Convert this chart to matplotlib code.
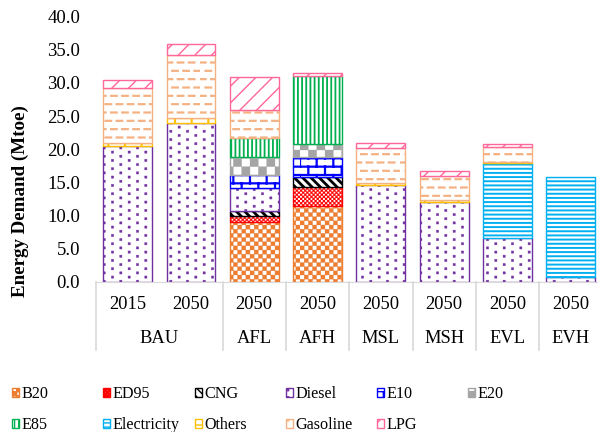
import warnings
import numpy as np
import matplotlib
matplotlib.use("Agg")
import matplotlib.pyplot as plt
import matplotlib.hatch as mhatch
from matplotlib.path import Path
from matplotlib.patches import Patch

warnings.filterwarnings('ignore')
plt.rcParams['font.family'] = ['Liberation Serif', 'DejaVu Serif']

# categories (bottom axis, two levels)
years = ['2015', '2050', '2050', '2050', '2050', '2050', '2050', '2050']
scenarios = ['BAU', 'AFL', 'AFH', 'MSL', 'MSH', 'EVL', 'EVH']
scenario_span = [(0, 1), (2, 2), (3, 3), (4, 4), (5, 5), (6, 6), (7, 7)]

# energy demand by fuel (Mtoe)
B20 = [0, 0, 9.1, 11.4, 0, 0, 0, 0]
ED95 = [0, 0, 0.85, 2.9, 0, 0, 0, 0]
CNG = [0, 0, 0.8, 1.5, 0, 0, 0, 0]
Diesel = [20.5, 24.0, 3.4, 0, 14.6, 12.0, 6.6, 0.8]
E10 = [0, 0, 2.0, 3.1, 0, 0, 0, 0]
E20 = [0, 0, 2.75, 1.9, 0, 0, 0, 0]
E85 = [0, 0, 2.75, 10.2, 0, 0, 0, 0]
Electricity = [0, 0, 0, 0, 0, 0, 11.3, 15.0]
Others = [0.5, 0.65, 0, 0, 0.3, 0.3, 0.15, 0]
Gasoline = [8.2, 9.6, 4.3, 0, 5.25, 3.7, 2.35, 0]
LPG = [1.3, 1.65, 4.95, 0.55, 0.85, 0.65, 0.4, 0]

fuels = ['B20', 'ED95', 'CNG', 'Diesel', 'E10', 'E20', 'E85',
         'Electricity', 'Others', 'Gasoline', 'LPG']
values = [B20, ED95, CNG, Diesel, E10, E20, E85, Electricity, Others, Gasoline, LPG]


# extra hatch patterns (Excel-like fills): c = checker, d = dashes, b = bricks, p = dots
class CheckerHatch(mhatch.HatchPatternBase):
    def __init__(self, hatch, density):
        self.n = 2 * hatch.count('c') * density
        self.num_vertices = (self.n * self.n // 2) * 5

    def set_vertices_and_codes(self, vertices, codes):
        s = 1.0 / self.n
        k = 0
        for i in range(self.n):
            for j in range(self.n):
                if (i + j) % 2 == 0:
                    x0, y0 = i * s, j * s
                    vertices[k:k + 5] = [[x0, y0], [x0 + s, y0], [x0 + s, y0 + s],
                                         [x0, y0 + s], [x0, y0]]
                    codes[k:k + 5] = [Path.MOVETO, Path.LINETO, Path.LINETO,
                                      Path.LINETO, Path.CLOSEPOLY]
                    k += 5


class DashHatch(mhatch.HatchPatternBase):
    def __init__(self, hatch, density):
        c = hatch.count('d')
        self.rows = 2 * c * density
        self.per_row = int(round(self.rows * 0.75))
        self.num_vertices = self.rows * self.per_row * 2

    def set_vertices_and_codes(self, vertices, codes):
        k = 0
        for r in range(self.rows):
            y = (r + 0.5) / self.rows
            off = 0.5 if r % 2 else 0.0
            for d in range(self.per_row):
                x0 = (d + off) / self.per_row
                vertices[k:k + 2] = [[x0, y], [x0 + 0.5 / self.per_row, y]]
                codes[k:k + 2] = [Path.MOVETO, Path.LINETO]
                k += 2


class BrickHatch(mhatch.HatchPatternBase):
    def __init__(self, hatch, density):
        c = hatch.count('b')
        self.rows = 2 * c * density
        self.bricks = c * density
        self.num_vertices = self.rows * 2 + self.rows * self.bricks * 2

    def set_vertices_and_codes(self, vertices, codes):
        k = 0
        for r in range(self.rows):
            y0, y1 = r / self.rows, (r + 1) / self.rows
            vertices[k:k + 2] = [[0, y0], [1, y0]]
            codes[k:k + 2] = [Path.MOVETO, Path.LINETO]
            k += 2
            off = 0.5 if r % 2 else 0.0
            for b in range(self.bricks):
                xb = (b + off) / self.bricks
                vertices[k:k + 2] = [[xb, y0], [xb, y1]]
                codes[k:k + 2] = [Path.MOVETO, Path.LINETO]
                k += 2


class DotHatch(mhatch.HatchPatternBase):
    def __init__(self, hatch, density):
        self.n = 2 * hatch.count('p') * density
        self.num_vertices = self.n * self.n * 5

    def set_vertices_and_codes(self, vertices, codes):
        s = 1.0 / self.n
        h = 0.011
        k = 0
        for i in range(self.n):
            off = 0.5 * s if i % 2 else 0.0
            for j in range(self.n):
                cx, cy = (i + 0.5) * s, j * s + off + 0.25 * s
                vertices[k:k + 5] = [[cx - h, cy - h], [cx + h, cy - h], [cx + h, cy + h],
                                     [cx - h, cy + h], [cx - h, cy - h]]
                codes[k:k + 5] = [Path.MOVETO, Path.LINETO, Path.LINETO,
                                  Path.LINETO, Path.CLOSEPOLY]
                k += 5


mhatch._hatch_types.extend([CheckerHatch, DashHatch, BrickHatch, DotHatch])

# style per fuel: colour, hatch, hatch linewidth
styles = {
    'B20': ('#ED7D31', 'cc', 0.2),
    'ED95': ('#FF0000', 'cccc', 0.2),
    'CNG': ('#000000', '\\\\\\\\', 2.0),
    'Diesel': ('#7030A0', 'p', 0.3),
    'E10': ('#0000FF', 'b', 1.6),
    'E20': ('#A5A5A5', 'c', 0.2),
    'E85': ('#00B050', '||||', 1.3),
    'Electricity': ('#00B0F0', '----', 1.4),
    'Others': ('#FFC000', '+', 1.5),
    'Gasoline': ('#F4B183', 'd', 1.6),
    'LPG': ('#FF6699', '//', 1.0),
}

fig = plt.figure(figsize=(5.98, 4.32), dpi=100)
ax = fig.add_axes([96 / 598, 1 - 282 / 432, 1 - 96 / 598, (282 - 16.5) / 432])

x = np.arange(len(years))
bottom = np.zeros(len(years))
for name, vals in zip(fuels, values):
    col, hatch, hlw = styles[name]
    with plt.rc_context({'hatch.linewidth': hlw}):
        bars = ax.bar(x, vals, 0.77, bottom=bottom, facecolor='white',
                      edgecolor=col, hatch=hatch, linewidth=1.0, label=name)
    for p, v in zip(bars, vals):
        if hasattr(p, 'set_hatch_linewidth'):
            p.set_hatch_linewidth(hlw)
        if v == 0:
            p.set_visible(False)
    bottom += np.array(vals)

ax.set_xlim(-0.5, -0.5 + (598 - 96) / 63.3)
ax.set_ylim(0, 40)
ax.set_yticks(np.arange(0, 41, 5))
ax.set_yticklabels([f'{v:.1f}' for v in np.arange(0, 41, 5)])
ax.tick_params(axis='y', length=0, pad=11.5, labelsize=13.5)
ax.set_xticks([])
for s in ['top', 'right', 'left']:
    ax.spines[s].set_visible(False)
ax.spines['bottom'].set_color('#D9D9D9')
fig.text(20 / 598, 1 - 201.5 / 432, 'Energy Demand (Mtoe)', rotation=90,
         ha='center', va='center', fontweight='bold', fontsize=13.7)

# two-level category axis
tr = ax.get_xaxis_transform()
for i, yr in enumerate(years):
    ax.text(i, -0.085, yr, transform=tr, ha='center', va='center', fontsize=13.3)
for name, (a, b) in zip(scenarios, scenario_span):
    ax.text((a + b) / 2, -0.212, name, transform=tr, ha='center', va='center', fontsize=13.3)
    ax.plot([a - 0.5, a - 0.5], [0, -0.255], transform=tr, color='#D9D9D9',
            lw=1.2, clip_on=False)
ax.plot([7.5, 7.5], [0, -0.255], transform=tr, color='#D9D9D9', lw=1.2, clip_on=False)

# legend: one small legend per column
cols = [['B20', 'E85'], ['ED95', 'Electricity'], ['CNG', 'Others'],
        ['Diesel', 'Gasoline'], ['E10', 'LPG'], ['E20']]
col_x = [12, 103, 195, 286, 377, 468]
for names, cx in zip(cols, col_x):
    handles = []
    for n in names:
        col, hatch, hlw = styles[n]
        handles.append(Patch(facecolor='white', edgecolor=col, hatch=hatch, label=n))
    fig.legend(handles=handles, loc='upper left', bbox_to_anchor=(cx / 598, 1 - 386 / 432),
               frameon=False, fontsize=11.6, handlelength=0.45, handleheight=0.45,
               handletextpad=0.15, labelspacing=0.95, borderpad=0, borderaxespad=0)

fig.savefig('out.png', dpi=100)
